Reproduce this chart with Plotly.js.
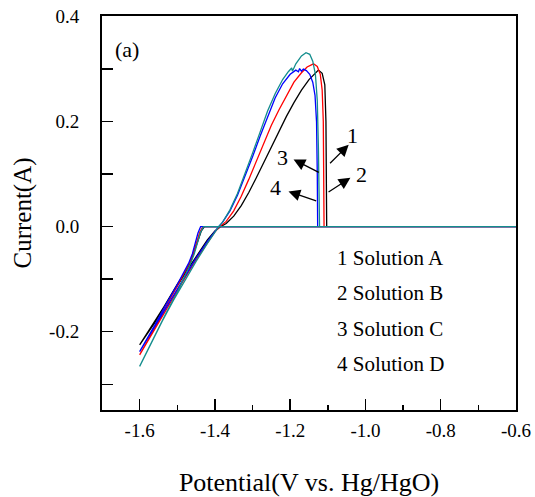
<!DOCTYPE html>
<html><head><meta charset="utf-8">
<script src="https://cdn.plot.ly/plotly-3.0.1.min.js"></script>
<style>html,body{margin:0;padding:0;background:#fff}#chart{width:535px;height:497px}</style>
</head><body><div id="chart"></div>
<script>
// Potential (V vs. Hg/HgO) and current (A)
const potA = [-0.6, -1.428, -1.436, -1.445, -1.455, -1.465, -1.48, -1.50, -1.53, -1.56, -1.6,
  -1.57, -1.54, -1.51, -1.48, -1.45, -1.42, -1.40, -1.385,
  -1.37, -1.35, -1.33, -1.31, -1.29, -1.27, -1.25, -1.23, -1.21, -1.19, -1.17, -1.15, -1.135, -1.125,
  -1.115, -1.108, -1.105, -1.104, -1.103, -0.6];
const curA = [0, 0, -0.008, -0.028, -0.05, -0.068, -0.088, -0.11, -0.146, -0.183, -0.225,
  -0.192, -0.158, -0.124, -0.09, -0.057, -0.025, -0.008, 0,
  0.006, 0.02, 0.04, 0.065, 0.093, 0.122, 0.152, 0.182, 0.21, 0.236, 0.26, 0.28, 0.292, 0.298,
  0.292, 0.27, 0.2, 0.1, 0, 0];

const potB = [-0.6, -1.432, -1.44, -1.448, -1.458, -1.468, -1.482, -1.50, -1.53, -1.56, -1.6,
  -1.57, -1.54, -1.51, -1.48, -1.45, -1.42, -1.40, -1.387,
  -1.37, -1.35, -1.33, -1.31, -1.29, -1.27, -1.25, -1.23, -1.21, -1.19, -1.17, -1.155, -1.138,
  -1.128, -1.12, -1.115, -1.112, -1.111, -1.11, -0.6];
const curB = [0, 0, -0.01, -0.03, -0.052, -0.07, -0.09, -0.113, -0.152, -0.193, -0.244,
  -0.207, -0.17, -0.134, -0.098, -0.063, -0.03, -0.01, 0,
  0.01, 0.03, 0.058, 0.09, 0.125, 0.16, 0.193, 0.222, 0.25, 0.275, 0.293, 0.304, 0.31,
  0.305, 0.29, 0.26, 0.2, 0.1, 0, 0];

const potC = [-0.6, -1.438, -1.445, -1.452, -1.46, -1.47, -1.484, -1.50, -1.53, -1.56, -1.6,
  -1.57, -1.54, -1.51, -1.48, -1.45, -1.42, -1.40, -1.39,
  -1.38, -1.36, -1.34, -1.32, -1.30, -1.28, -1.26, -1.24, -1.22, -1.2,
  -1.185, -1.178, -1.175, -1.17, -1.165, -1.157, -1.148, -1.14, -1.134, -1.13, -1.128, -1.127, -0.6];
const curC = [0, 0, -0.012, -0.032, -0.052, -0.07, -0.09, -0.11, -0.148, -0.188, -0.238,
  -0.202, -0.166, -0.13, -0.095, -0.06, -0.028, -0.008, 0,
  0.008, 0.03, 0.06, 0.095, 0.133, 0.172, 0.21, 0.245, 0.272, 0.29,
  0.298, 0.295, 0.301, 0.296, 0.3, 0.297, 0.29, 0.275, 0.25, 0.2, 0.1, 0, 0];

const potD = [-0.6, -1.43, -1.438, -1.446, -1.455, -1.466, -1.48, -1.50, -1.53, -1.56, -1.6,
  -1.57, -1.54, -1.51, -1.48, -1.45, -1.42, -1.40, -1.39,
  -1.38, -1.36, -1.34, -1.32, -1.30, -1.28, -1.26, -1.24, -1.22,
  -1.205, -1.196, -1.194, -1.185, -1.17, -1.158, -1.148, -1.14, -1.133, -1.128, -1.125, -1.123, -1.122, -0.6];
const curD = [0, 0, -0.01, -0.03, -0.052, -0.072, -0.093, -0.125, -0.165, -0.208, -0.266,
  -0.222, -0.18, -0.14, -0.102, -0.066, -0.032, -0.01, 0,
  0.008, 0.032, 0.063, 0.1, 0.14, 0.18, 0.22, 0.253, 0.28,
  0.295, 0.302, 0.296, 0.31, 0.325, 0.331, 0.328, 0.315, 0.29, 0.24, 0.15, 0.06, 0, 0];

const seriesNames = ['1 Solution A', '2 Solution B', '3 Solution C', '4 Solution D'];
const seriesColors = ['#000000', '#ff0000', '#0000ff', '#138d8d'];

const xTickVals = [-1.6, -1.4, -1.2, -1.0, -0.8, -0.6];
const xTickText = ['-1.6', '-1.4', '-1.2', '-1.0', '-0.8', '-0.6'];
const yTickVals = [-0.2, 0.0, 0.2, 0.4];
const yTickText = ['-0.2', '0.0', '0.2', '0.4'];

// Arrow callouts
const calloutLabels = ['1', '2', '3', '4'];
const calloutLabelX = [-1.035, -1.011, -1.22, -1.24];
const calloutLabelY = [0.174, 0.100, 0.132, 0.074];
const arrowHeadX = [-1.0445, -1.040, -1.191, -1.2045];
const arrowHeadY = [0.156, 0.093, 0.128, 0.067];
const arrowTailX = [-1.098, -1.102, -1.120, -1.127];
const arrowTailY = [0.118, 0.064, 0.102, 0.048];

const FONT = 'Liberation Serif, Times New Roman, serif';

const pots = [potA, potB, potC, potD];
const curs = [curA, curB, curC, curD];
const traces = pots.map((p, i) => ({
  x: p, y: curs[i], type: 'scatter', mode: 'lines', name: seriesNames[i],
  line: {color: seriesColors[i], width: 1.3}, hoverinfo: 'skip'
}));

const annotations = [];
annotations.push({x: 0.06, y: 0.916, xref: 'paper', yref: 'paper', text: '(a)', showarrow: false,
  font: {family: FONT, size: 22, color: '#000'}, xanchor: 'center', yanchor: 'middle'});
for (let i = 0; i < calloutLabels.length; i++) {
  annotations.push({x: calloutLabelX[i], y: calloutLabelY[i], text: calloutLabels[i], showarrow: false,
    font: {family: FONT, size: 22, color: '#000'}, xanchor: 'center', yanchor: 'middle'});
  annotations.push({x: arrowHeadX[i], y: arrowHeadY[i], ax: arrowTailX[i], ay: arrowTailY[i],
    axref: 'x', ayref: 'y', text: '', showarrow: true, arrowhead: 2, arrowsize: 1.8,
    arrowwidth: 1.3, arrowcolor: '#000'});
}
const legendY = [-0.060, -0.127, -0.194, -0.261];
for (let i = 0; i < seriesNames.length; i++) {
  annotations.push({x: -1.082, y: legendY[i], text: seriesNames[i], showarrow: false,
    font: {family: FONT, size: 21, color: '#000'}, xanchor: 'left', yanchor: 'middle'});
}

const layout = {
  width: 535, height: 497,
  margin: {l: 102, r: 19, t: 16, b: 87},
  paper_bgcolor: '#fff', plot_bgcolor: '#fff',
  showlegend: false,
  font: {family: FONT, color: '#000'},
  xaxis: {
    range: [-1.7, -0.6], tickmode: 'array', tickvals: xTickVals, ticktext: xTickText,
    ticks: 'inside', ticklen: 11, tickwidth: 1.5, tickcolor: '#000',
    showline: true, linewidth: 2, linecolor: '#000', mirror: true,
    showgrid: false, zeroline: false,
    tickfont: {family: FONT, size: 19, color: '#000'}, ticklabelstandoff: 2,
    minor: {tickmode: 'linear', tick0: -1.7, dtick: 0.1, ticks: 'inside', ticklen: 5, tickwidth: 1.5, tickcolor: '#000', showgrid: false},
    title: {text: 'Potential(V vs. Hg/HgO)', font: {family: FONT, size: 26, color: '#000'}, standoff: 34}
  },
  yaxis: {
    range: [-0.349, 0.401], tickmode: 'array', tickvals: yTickVals, ticktext: yTickText,
    ticks: 'inside', ticklen: 11, tickwidth: 1.5, tickcolor: '#000',
    showline: true, linewidth: 2, linecolor: '#000', mirror: true,
    showgrid: false, zeroline: false,
    tickfont: {family: FONT, size: 19, color: '#000'}, ticklabelstandoff: 17,
    minor: {tickmode: 'linear', tick0: -0.3, dtick: 0.1, ticks: 'inside', ticklen: 11, tickwidth: 1.5, tickcolor: '#000', showgrid: false},
    title: {text: 'Current(A)', font: {family: FONT, size: 25, color: '#000'}, standoff: 10}
  },
  annotations: annotations
};

Plotly.newPlot('chart', traces, layout, {displayModeBar: false, staticPlot: true});
</script></body></html>
